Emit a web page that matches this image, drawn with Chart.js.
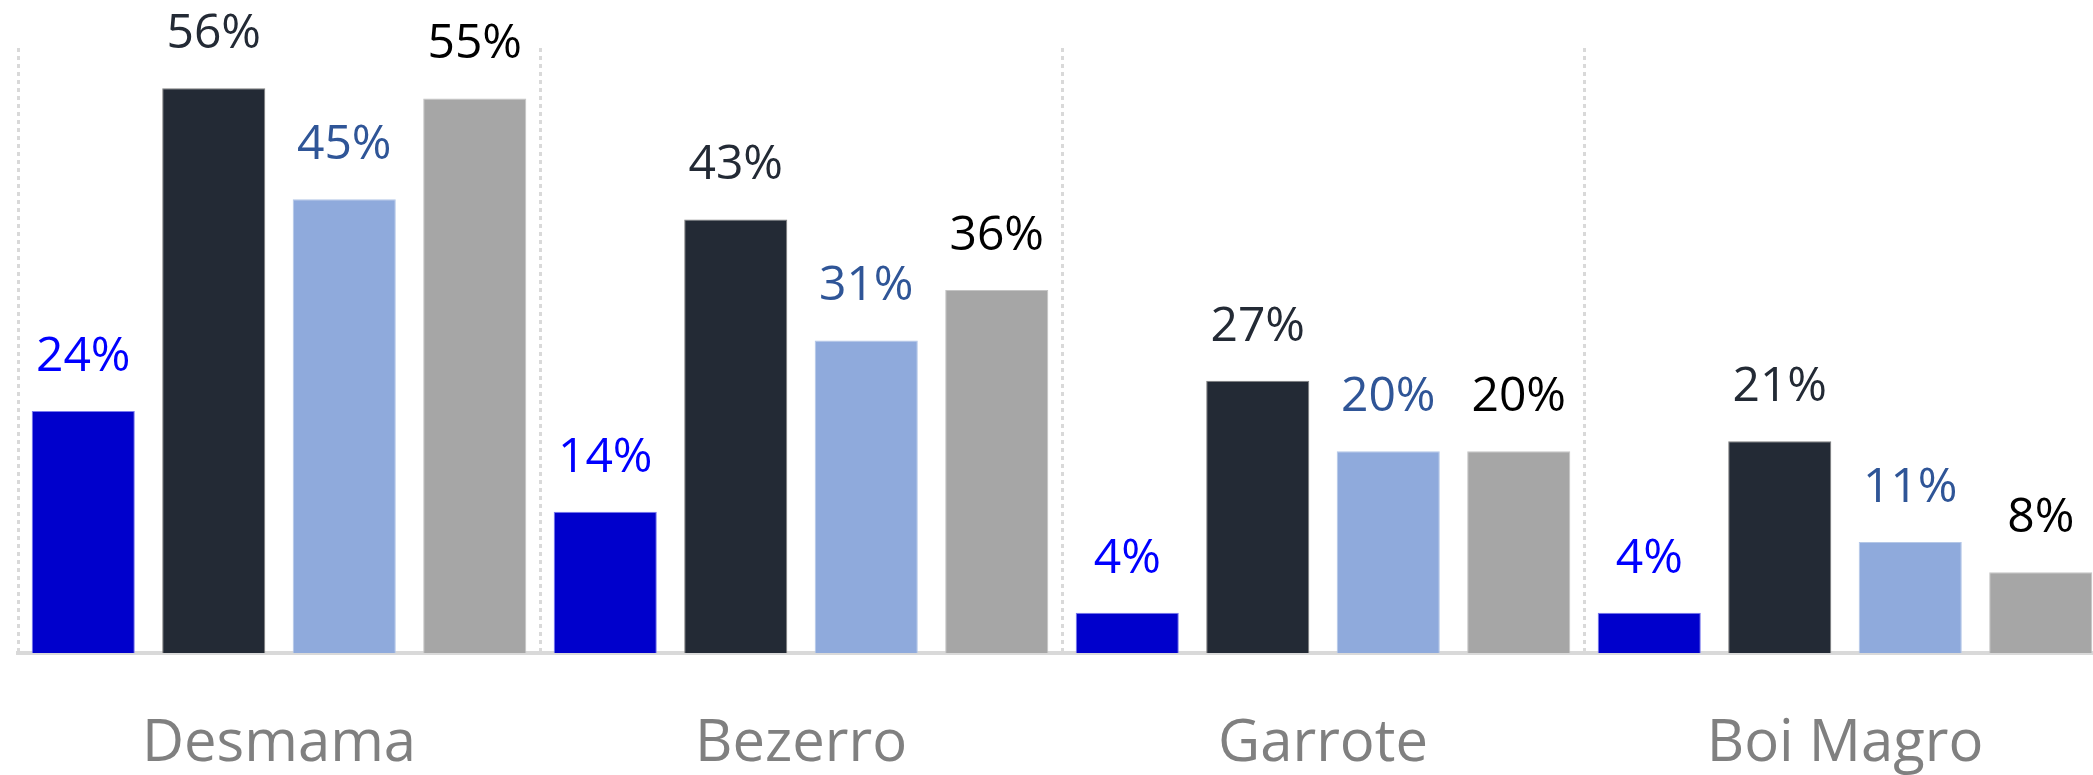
<!DOCTYPE html>
<html>
<head>
<meta charset="utf-8">
<script src="https://cdn.jsdelivr.net/npm/chart.js@4/dist/chart.umd.min.js"></script>
<style>
  html, body { margin: 0; padding: 0; background: #fff; overflow: hidden; }
  #wrap { width: 2106px; height: 775px; position: relative; }
</style>
</head>
<body>
<div id="wrap"><canvas id="chart"></canvas></div>
<script>
const categories = ['Desmama', 'Bezerro', 'Garrote', 'Boi Magro'];
const serie1 = [24, 14, 4, 4];
const serie2 = [56, 43, 27, 21];
const serie3 = [45, 31, 20, 11];
const serie4 = [55, 36, 20, 8];

const barColors = ['#0000cc', '#232a35', '#8faadc', '#a6a6a6'];
const edgeColors = ['#7a7aee', '#7f7f7f', '#b4c7e7', '#c4c4c4'];
const labelColors = ['#0000ff', '#232a35', '#2f5597', '#000000'];

// rótulos de valor acima das barras
const valueLabels = {
  id: 'valueLabels',
  afterDatasetsDraw(chart) {
    const ctx = chart.ctx;
    ctx.save();
    ctx.font = '48px "Open Sans"';
    ctx.textAlign = 'center';
    ctx.textBaseline = 'alphabetic';
    chart.data.datasets.forEach((ds, i) => {
      chart.getDatasetMeta(i).data.forEach((bar, j) => {
        ctx.fillStyle = labelColors[i];
        ctx.fillText(ds.data[j] + '%', bar.x, bar.y - 40);
      });
    });
    ctx.restore();
  }
};

const ctx = document.getElementById('chart').getContext('2d');

new Chart(ctx, {
  type: 'bar',
  data: {
    labels: categories,
    datasets: [
      { label: 'Série 1', data: serie1, backgroundColor: barColors[0], borderColor: edgeColors[0], borderWidth: 1 },
      { label: 'Série 2', data: serie2, backgroundColor: barColors[1], borderColor: edgeColors[1], borderWidth: 1 },
      { label: 'Série 3', data: serie3, backgroundColor: barColors[2], borderColor: edgeColors[2], borderWidth: 1 },
      { label: 'Série 4', data: serie4, backgroundColor: barColors[3], borderColor: edgeColors[3], borderWidth: 1 }
    ]
  },
  options: {
    responsive: true,
    maintainAspectRatio: false,
    animation: false,
    datasets: { bar: { categoryPercentage: 1.0, barPercentage: 0.79 } },
    layout: { padding: { left: 18, top: 48, right: 0, bottom: 0 } },
    plugins: { legend: { display: false }, tooltip: { enabled: false } },
    scales: {
      x: {
        offset: true,
        grid: { offset: true, color: '#d9d9d9', lineWidth: 3, drawTicks: false },
        border: { display: true, color: '#d9d9d9', width: 4, dash: [4, 4] },
        ticks: {
          color: '#808080',
          padding: 57,
          font: { family: '"Open Sans"', size: 58 }
        },
        afterFit: s => { s.height = 122; }
      },
      y: {
        display: false,
        min: 0,
        max: 60
      }
    }
  },
  plugins: [valueLabels]
});
</script>
</body>
</html>
